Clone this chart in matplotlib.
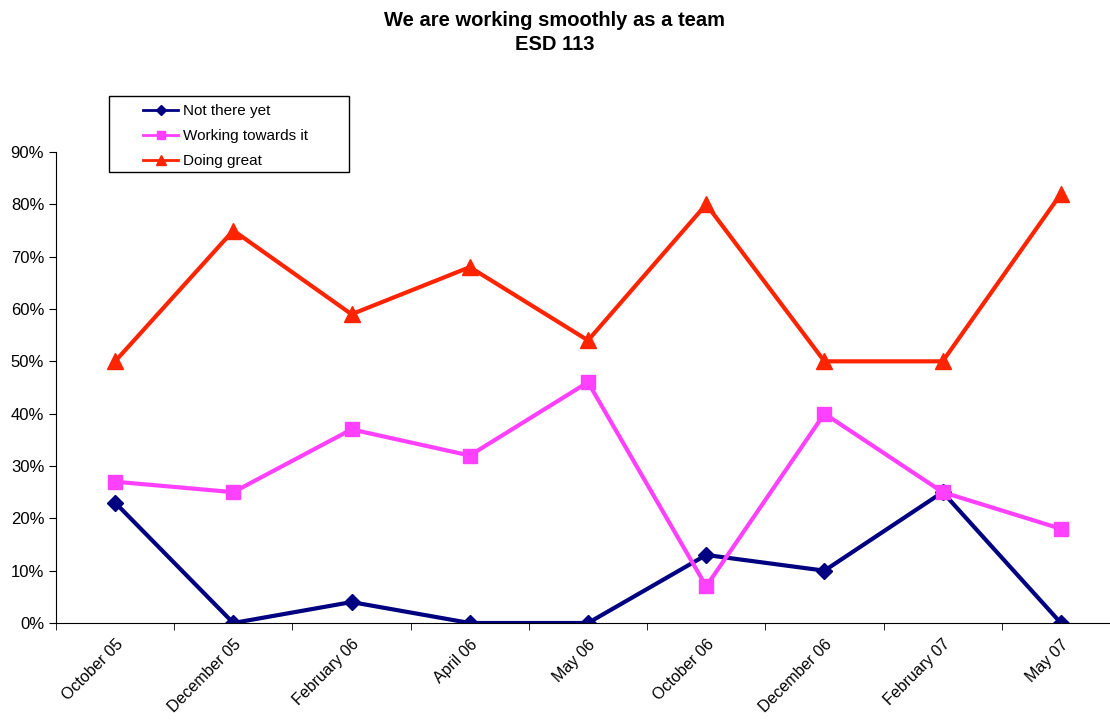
import matplotlib.pyplot as plt
from matplotlib.patches import Rectangle
from matplotlib.lines import Line2D
from matplotlib.ticker import FixedLocator, PercentFormatter

plt.rcParams["font.family"] = ["Liberation Sans", "DejaVu Sans"]

months = ["October 05", "December 05", "February 06", "April 06", "May 06",
          "October 06", "December 06", "February 07", "May 07"]
not_there = [0.23, 0.00, 0.04, 0.00, 0.00, 0.13, 0.10, 0.25, 0.00]
working = [0.27, 0.25, 0.37, 0.32, 0.46, 0.07, 0.40, 0.25, 0.18]
great = [0.50, 0.75, 0.59, 0.68, 0.54, 0.80, 0.50, 0.50, 0.82]

NAVY, PINK, RED = "#000080", "#FF40FF", "#FF2400"

fig = plt.figure(figsize=(11.1, 7.22), dpi=100)
ax = fig.add_axes([56 / 1110, 1 - 623 / 722, 1064 / 1110, 471 / 722])

x = range(len(months))
ax.plot(x, not_there, color=NAVY, lw=3, marker="D", ms=8)
ax.plot(x, working, color=PINK, lw=3, marker="s", ms=10)
ax.plot(x, great, color=RED, lw=3, marker="^", ms=11)

ax.set_xlim(-0.5, len(months) - 0.5)
ax.set_ylim(0, 0.9)
ax.set_yticks([i / 10 for i in range(10)])
ax.yaxis.set_major_formatter(PercentFormatter(1.0, decimals=0))
ax.tick_params(axis="y", labelsize=12, length=5, color="black")

ax.set_xticks(list(x))
ax.set_xticklabels(months, rotation=45, ha="right", rotation_mode="anchor", fontsize=11.5)
ax.tick_params(axis="x", which="major", length=0, pad=10)
ax.xaxis.set_minor_locator(FixedLocator([i - 0.5 for i in range(len(months) + 1)]))
ax.tick_params(axis="x", which="minor", length=5, direction="out")

for s in ["top", "right"]:
    ax.spines[s].set_visible(False)

fig.text(0.5, 1 - 20 / 722, "We are working smoothly as a team", ha="center", va="center",
         fontsize=14.5, fontweight="bold")
fig.text(0.5, 1 - 44 / 722, "ESD 113", ha="center", va="center",
         fontsize=14.5, fontweight="bold")

# legend frame like the original (wider than its entries)
fig.patches.append(Rectangle((109 / 1110, 1 - 172 / 722), 240 / 1110, 76 / 722,
                             transform=fig.transFigure, fill=False,
                             edgecolor="black", lw=1))
handles = [
    Line2D([], [], color=NAVY, lw=2, marker="D", ms=5),
    Line2D([], [], color=PINK, lw=2, marker="s", ms=6),
    Line2D([], [], color=RED, lw=2, marker="^", ms=7),
]
labels = ["Not there yet", "Working towards it", "Doing great"]
fig.legend(handles, labels, loc="upper left", bbox_to_anchor=(143 / 1110, 1 - 104 / 722),
           frameon=False, fontsize=11, handlelength=2.3, handletextpad=0.3,
           borderpad=0, borderaxespad=0, labelspacing=0.73)

fig.savefig("out.png", dpi=100)
